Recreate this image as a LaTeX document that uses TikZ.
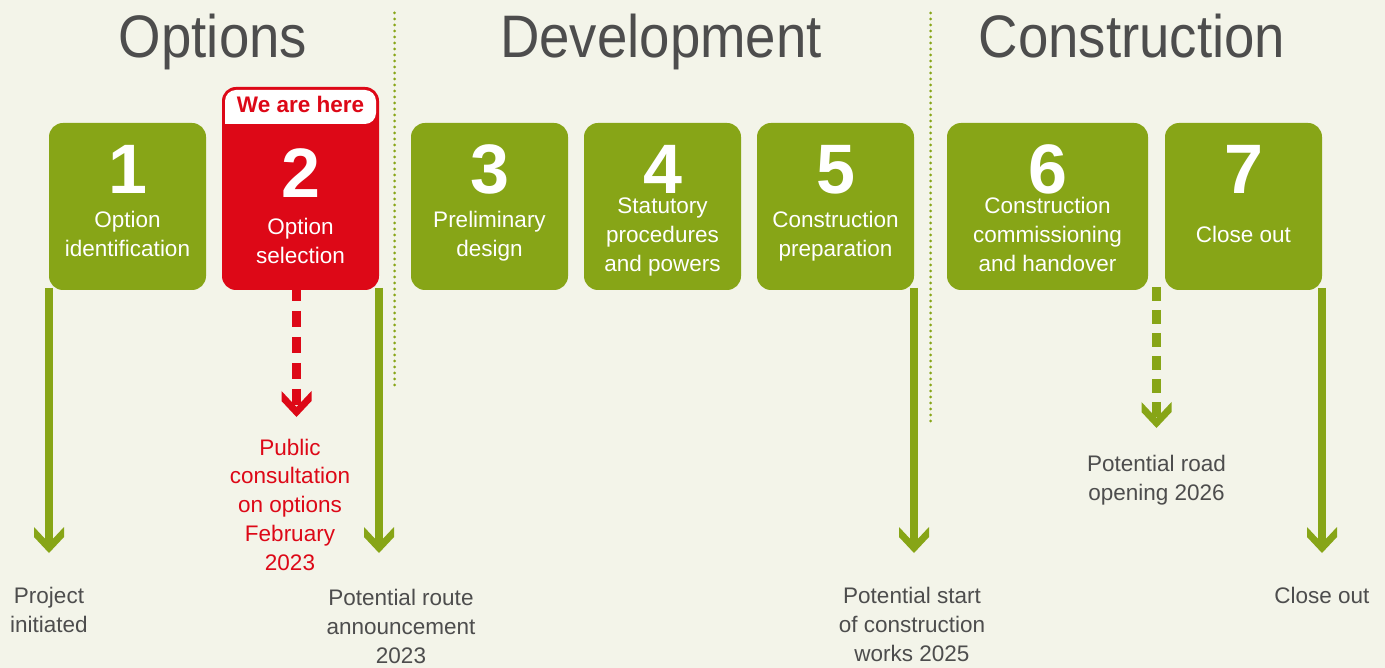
\documentclass[tikz,border=0pt]{standalone}
\usepackage{fontspec}
\setmainfont{Liberation Sans}
\newfontfamily\headfont[FakeStretch=0.91]{Liberation Sans}
\usetikzlibrary{positioning,calc,arrows.meta}
\definecolor{leaf}{RGB}{135,165,23}
\definecolor{alert}{RGB}{221,8,23}
\definecolor{paper}{RGB}{243,244,233}
\definecolor{ink}{RGB}{77,77,77}

% thick chevron tip
\pgfdeclarearrow{
  name = Chevron,
  parameters = {\the\pgfarrowlength,\the\pgfarrowwidth,\the\pgfarrowinset},
  setup code = {
    \pgfarrowssettipend{0pt}
    \pgfarrowssetlineend{-\pgfarrowinset}
    \pgfarrowssetvisualbackend{-\pgfarrowlength}
    \pgfarrowssetbackend{-\pgfarrowlength}
    \pgfarrowshullpoint{0pt}{0pt}
    \pgfarrowsupperhullpoint{-\pgfarrowlength}{.5\pgfarrowwidth}
    \pgfarrowssavethe\pgfarrowlength
    \pgfarrowssavethe\pgfarrowwidth
    \pgfarrowssavethe\pgfarrowinset
  },
  drawing code = {
    \pgfpathmoveto{\pgfpointorigin}
    \pgfpathlineto{\pgfpoint{\pgfarrowinset-\pgfarrowlength}{.5\pgfarrowwidth}}
    \pgfpathlineto{\pgfpoint{-\pgfarrowlength}{.5\pgfarrowwidth}}
    \pgfpathlineto{\pgfpoint{-\pgfarrowinset}{0pt}}
    \pgfpathlineto{\pgfpoint{-\pgfarrowlength}{-.5\pgfarrowwidth}}
    \pgfpathlineto{\pgfpoint{\pgfarrowinset-\pgfarrowlength}{-.5\pgfarrowwidth}}
    \pgfpathclose
    \pgfusepathqfill
  },
  defaults = {length=26pt, width=30pt, inset=10pt}
}

\tikzset{
stage/.style={fill=leaf, rounded corners=14pt, minimum width=157pt,
	minimum height=167pt, inner sep=0pt, outer sep=0pt},
num/.style={anchor=base, inner sep=0pt, text=white,
	font=\fontsize{70}{70}\selectfont\bfseries},
caption/.style={anchor=base, inner sep=0pt, align=center, text=white,
	font=\fontsize{22.5}{29}\selectfont},
phase/.style={anchor=base, inner sep=0pt, text=ink,
	font=\headfont\fontsize{60}{60}\selectfont},
note/.style={anchor=base, inner sep=0pt, align=center, text=ink,
	font=\fontsize{22.5}{28.7}\selectfont},
divider/.style={draw=leaf, line width=3pt, line cap=round,
	dash pattern=on 0pt off 6pt},
milestone/.style={draw=leaf, line width=8.5pt, -{Chevron}},
tentative/.style={milestone, dash pattern=on 14.5pt off 8.5pt}
}

\begin{document}
\begin{tikzpicture}[x=1pt, y=-1pt]
	\fill[paper] (0,0) rectangle (1385,668);
	\useasboundingbox (0,0) rectangle (1385,668);

	% phases
	\node[phase] (options) at (213,58) {Options};
	\node[phase] (development) at (661,58) {Development};
	\node[phase] (construction) at (1132,58) {Construction};
	\draw[divider] (394.5,13) -- (394.5,385);
	\draw[divider] (930.5,13) -- (930.5,421);

	% stages
	\node[stage] (s1) at (127.5,206.5) {};
	\node[stage, fill=alert, minimum height=203pt,
		right=16pt of s1.south east, anchor=south west] (s2) {};
	\node[stage, right=32pt of s2.south east, anchor=south west] (s3) {};
	\node[stage, right=16pt of s3] (s4) {};
	\node[stage, right=16pt of s4] (s5) {};
	\node[stage, minimum width=201pt, right=33pt of s5] (s6) {};
	\node[stage, right=17pt of s6] (s7) {};

	\fill[white] ([xshift=3pt,yshift=-37pt]s2.north west) [rounded corners=11pt]
		|- ([yshift=-3pt]s2.north) -| ([xshift=-3pt,yshift=-37pt]s2.north east)
		[sharp corners] -- cycle;
	\node[anchor=base, inner sep=0pt, text=alert,
		font=\fontsize{22.5}{29}\selectfont\bfseries] (here)
		at ([yshift=-26pt]s2.north) {We are here};

	\node[num] (n1) at ([yshift=-71pt]s1.north) {1};
	\node[num] (n2) at ([yshift=-111pt]s2.north) {2};
	\node[num] (n3) at ([yshift=-71pt]s3.north) {3};
	\node[num] (n4) at ([yshift=-71pt]s4.north) {4};
	\node[num] (n5) at ([yshift=-71pt]s5.north) {5};
	\node[num] (n6) at ([yshift=-71pt]s6.north) {6};
	\node[num] (n7) at ([yshift=-71pt]s7.north) {7};

	% base = last line
	\node[caption] (c1) at ([yshift=-134pt]s1.north) {Option\\identification};
	\node[caption] (c2) at ([yshift=-177pt]s2.north) {Option\\selection};
	\node[caption] (c3) at ([yshift=-134pt]s3.north) {Preliminary\\design};
	\node[caption] (c4) at ([yshift=-149pt]s4.north) {Statutory\\procedures\\and powers};
	\node[caption] (c5) at ([yshift=-134pt]s5.north) {Construction\\preparation};
	\node[caption] (c6) at ([yshift=-149pt]s6.north) {Construction\\commissioning\\and handover};
	\node[caption] (c7) at ([yshift=-120pt]s7.north) {Close out};

	% milestones
	\draw[milestone] ([yshift=2pt]s1.south west) -- ++(0,265) coordinate (a1);
	\draw[tentative, alert, dash pattern=on 16pt off 10pt]
		([xshift=-4pt,yshift=5pt]s2.south) -- ++(0,132) coordinate (a2);
	\draw[milestone] ([yshift=2pt]s2.south east) -- ++(0,265) coordinate (a3);
	\draw[milestone] ([yshift=2pt]s5.south east) -- ++(0,265) coordinate (a5);
	\coordinate (gap) at ($(s6.south east)!.5!(s7.south west)+(0,-3)$);
	\draw[tentative] (gap) -- ++(0,141) coordinate (a6);
	\draw[milestone] ([yshift=2pt]s7.south east) -- ++(0,265) coordinate (a7);

	\node[note] (t1) at ([yshift=-79pt]a1) {Project\\initiated};
	\node[note, text=alert] (t2) at ([xshift=-6.5pt,yshift=-153pt]a2)
		{Public\\consultation\\on options\\February\\2023};
	\node[note] (t3) at ([xshift=22pt,yshift=-110pt]a3)
		{Potential route\\announcement\\2023};
	\node[note] (t5) at ([xshift=-2pt,yshift=-108pt]a5)
		{Potential start\\of construction\\works 2025};
	\node[note] (t6) at ([yshift=-72pt]a6) {Potential road\\opening 2026};
	\node[note] (t7) at ([yshift=-50pt]a7) {Close out};
\end{tikzpicture}
\end{document}
